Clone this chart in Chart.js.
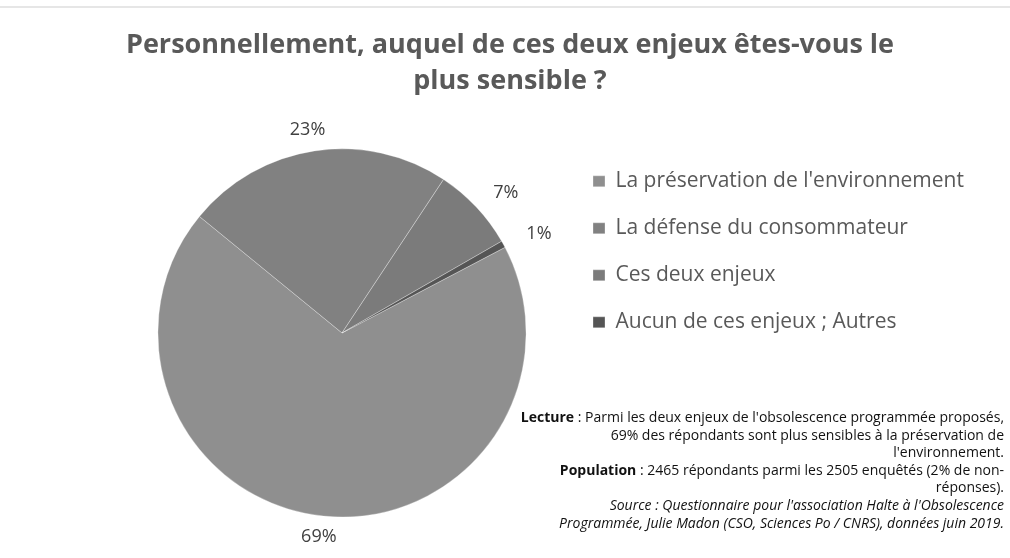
<!DOCTYPE html>
<html>
<head>
<meta charset="utf-8">
<script src="https://cdn.jsdelivr.net/npm/chart.js@4/dist/chart.umd.min.js"></script>
<style>
  html, body { margin: 0; padding: 0; background: #fff; }
  #wrap { width: 1010px; height: 558px; position: relative; }
</style>
</head>
<body>
<div id="wrap"><canvas id="pie" width="1010" height="558"></canvas></div>
<script>
// ===============================
// Data
// ===============================
const titleLines = [
  "Personnellement, auquel de ces deux enjeux êtes-vous le",
  "plus sensible ?"
];
const categories = [
  "La préservation de l'environnement",
  "La défense du consommateur",
  "Ces deux enjeux",
  "Aucun de ces enjeux ; Autres"
];
const shares = [68.6, 23.4, 7.4, 0.6];
const sliceColors = ["#8f8f8f", "#818181", "#7b7b7b", "#555555"];

// note lines: [text, style] pieces
const noteLines = [
  [["Lecture", "bold"], [" : Parmi les deux enjeux de l'obsolescence programmée proposés,", "normal"]],
  [["69% des répondants sont plus sensibles à la préservation de", "normal"]],
  [["l'environnement.", "normal"]],
  [["Population", "bold"], [" : 2465 répondants parmi les 2505 enquêtés (2% de non-", "normal"]],
  [["réponses).", "normal"]],
  [["Source : Questionnaire pour l'association Halte à l'Obsolescence", "italic"]],
  [["Programmée, Julie Madon (CSO, Sciences Po / CNRS), données juin 2019.", "italic"]]
];

const FONT = "'Open Sans', 'Noto Sans', sans-serif";

// ===============================
// Plugins
// ===============================
// white background + faint frame line at the top
const backdrop = {
  id: "backdrop",
  beforeDraw(chart) {
    const ctx = chart.ctx;
    ctx.save();
    ctx.fillStyle = "#ffffff";
    ctx.fillRect(0, 0, chart.width, chart.height);
    ctx.fillStyle = "#e6e6e6";
    ctx.fillRect(0, 6, chart.width, 2);
    ctx.restore();
  }
};

// small layout nudges: legend rows a bit higher, title centred on the page
const layoutNudge = {
  id: "layoutNudge",
  afterLayout(chart) {
    chart.legend.top -= 3.5;
    chart.legend.bottom -= 3.5;
    chart.titleBlock.left -= 35;
    chart.titleBlock.right -= 35;
  }
};

// percentage labels at the outside end of each slice
const outsideLabels = {
  id: "outsideLabels",
  afterDatasetsDraw(chart) {
    const ctx = chart.ctx;
    const meta = chart.getDatasetMeta(0);
    ctx.save();
    ctx.font = "18px " + FONT;
    ctx.fillStyle = "#404040";
    ctx.textAlign = "center";
    ctx.textBaseline = "middle";
    meta.data.forEach((arc, i) => {
      const { x, y, startAngle, endAngle, outerRadius } = arc.getProps(
        ["x", "y", "startAngle", "endAngle", "outerRadius"], true);
      const mid = (startAngle + endAngle) / 2;
      const ux = Math.cos(mid), uy = Math.sin(mid);
      const text = Math.round(shares[i]) + "%";
      const w = ctx.measureText(text).width;
      const d = outerRadius + 8;
      const cx = x + d * ux + ux * (w / 2 + 20);
      const cy = y + d * uy + uy * 13;
      ctx.fillText(text, cx, cy);
    });
    ctx.restore();
  }
};

// reading note, right aligned in the bottom right corner
const readingNote = {
  id: "readingNote",
  afterDraw(chart) {
    const ctx = chart.ctx;
    const right = 1004;
    let y = 418;
    ctx.save();
    ctx.fillStyle = "#111111";
    ctx.textBaseline = "middle";
    ctx.textAlign = "left";
    noteLines.forEach((line) => {
      const fonts = line.map(([, style]) =>
        style === "bold" ? "bold 14px " + FONT :
        style === "italic" ? "italic 14px " + FONT : "14px " + FONT);
      let total = 0;
      const widths = line.map(([txt], k) => {
        ctx.font = fonts[k];
        const w = ctx.measureText(txt).width;
        total += w;
        return w;
      });
      let x = right - total;
      line.forEach(([txt], k) => {
        ctx.font = fonts[k];
        ctx.fillText(txt, x, y);
        x += widths[k];
      });
      y += 17.6;
    });
    ctx.restore();
  }
};

// ===============================
// Chart
// ===============================
const ctx = document.getElementById("pie").getContext("2d");
new Chart(ctx, {
  type: "pie",
  data: {
    labels: categories,
    datasets: [{
      data: shares,
      backgroundColor: sliceColors,
      borderColor: "rgba(255,255,255,0.3)",
      borderWidth: 1
    }]
  },
  options: {
    responsive: false,
    animation: false,
    rotation: 62.3,
    layout: { padding: { left: 117, right: 37, top: 0, bottom: 40.5 } },
    plugins: {
      title: {
        display: true,
        text: titleLines,
        color: "#595959",
        font: { family: FONT, size: 27, weight: "bold", lineHeight: 1.33 },
        padding: { top: 27, bottom: 49.5 }
      },
      legend: {
        position: "right",
        align: "start",
        fullSize: false,
        maxWidth: 406,
        labels: {
          boxWidth: 12,
          boxHeight: 11,
          padding: 26,
          color: "#595959",
          font: { family: FONT, size: 21 }
        }
      },
      tooltip: { enabled: false }
    }
  },
  plugins: [backdrop, layoutNudge, outsideLabels, readingNote]
});
</script>
</body>
</html>
